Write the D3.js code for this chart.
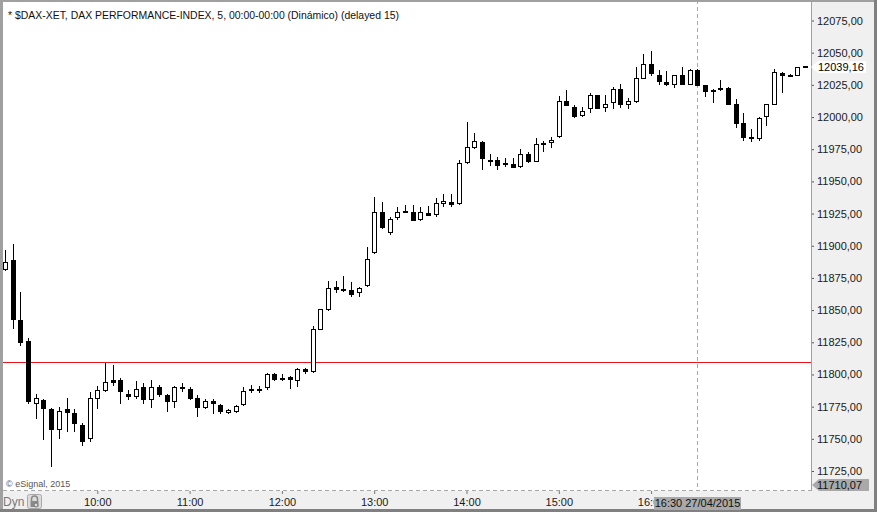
<!DOCTYPE html>
<html lang="es">
  <head>
    <meta charset="UTF-8" />
    <title>DAX 5 min</title>
    <script src="https://cdn.jsdelivr.net/npm/d3@7"></script>
    <style>
      body { margin: 0; background: #fff; }
      svg { display: block; font-family: "Liberation Sans", Arial, sans-serif; }
    </style>
  </head>
  <body>
    <svg width="877" height="512"></svg>
  </body>

  <script>
    // 5 minute candles, 27/04/2015, first bar 09:00
    var opens = [
      11882, 11889, 11842, 11826, 11778, 11780, 11773, 11758, 11773, 11770, 11761, 11751,
      11782, 11788, 11796, 11796, 11785, 11783, 11790, 11781, 11790, 11784, 11779, 11790,
      11789, 11782, 11775, 11779, 11776, 11770.5, 11772, 11777, 11788.5, 11789, 11790, 11800,
      11797.5, 11798, 11796, 11804, 11803, 11835, 11851, 11868, 11866.5, 11865.5, 11864, 11869.5,
      11895, 11926, 11910.5, 11922, 11927, 11926.5, 11920.5, 11925.5, 11925, 11933, 11934, 11933,
      11965, 11977, 11980.5, 11967, 11967, 11964.5, 11963.5, 11962, 11971, 11966, 11979.5, 11980.5,
      11985.5, 12012.5, 12008, 12001.5, 12007, 12017, 12007.5, 12011.5, 12022, 12010.5, 12012.5, 12030,
      12041, 12033, 12027.5, 12025.5, 12033, 12026, 12036.5, 12025, 12021, 12022.5, 12022.5, 12010.5,
      11995, 11984.5, 11983.5, 12001, 12010.5, 12034.5, 12033, 12033, 12039.5
    ];
    var highs = [
      11897, 11901, 11864, 11828, 11785, 11781, 11774, 11775, 11782, 11773, 11762, 11786,
      11791, 11809, 11807, 11797, 11788, 11795, 11793, 11796, 11792, 11785, 11791, 11793,
      11790, 11784, 11781, 11781, 11777, 11773, 11776, 11790.5, 11792, 11791, 11801, 11801,
      11800, 11798.5, 11805, 11805, 11838, 11851, 11873, 11873, 11876.5, 11871.5, 11868, 11899,
      11938, 11934, 11922, 11930, 11932, 11932, 11930, 11930.5, 11937, 11940, 11940, 11966.5,
      11996, 11987.5, 11981, 11971, 11969, 11968, 11968.5, 11975.5, 11973, 11984, 11981, 11984.5,
      12016, 12021, 12009.5, 12008, 12019, 12017.5, 12017.5, 12023, 12026, 12015, 12038.5, 12049,
      12051, 12036.5, 12036, 12033, 12038.5, 12037.5, 12037.5, 12025, 12021.5, 12029, 12023.5, 12014,
      12003, 11990.5, 12000, 12010, 12037.5, 12035, 12033.5, 12039, 12039.5
    ];
    var lows = [
      11881, 11836, 11823, 11778, 11766, 11750, 11729, 11751, 11756, 11756, 11745, 11748,
      11774, 11787, 11792, 11778, 11781, 11782, 11778, 11775, 11783, 11772, 11775, 11787,
      11781, 11768, 11774, 11770, 11770, 11770, 11771, 11776.5, 11786, 11786, 11789, 11795.5,
      11795.5, 11789.5, 11791, 11801.5, 11802, 11835, 11850, 11864, 11865, 11861, 11861, 11869,
      11894.5, 11914, 11909.5, 11921, 11926, 11920, 11920, 11924, 11923, 11931, 11931, 11932.5,
      11964.5, 11976, 11960, 11963, 11960, 11962, 11961, 11961, 11965, 11966, 11974, 11976.5,
      11984.5, 12009, 12000, 12001, 12004, 12007, 12005, 12007, 12008, 12007, 12012, 12030,
      12033, 12025.5, 12025, 12023, 12026, 12026, 12025, 12016.5, 12011.5, 12021, 12010, 11992.5,
      11982, 11981, 11982, 11994, 12010, 12019.5, 12032.5, 12032.5, 12039
    ];
    var closes = [
      11887, 11843, 11825, 11779, 11782, 11774, 11758, 11772, 11771, 11762, 11748, 11782,
      11788, 11794, 11794, 11787, 11783, 11789, 11781, 11790, 11785, 11779, 11790, 11790.5,
      11782, 11775, 11779, 11778, 11772, 11772.5, 11775.5, 11787, 11789, 11789, 11800, 11796.5,
      11797, 11796.5, 11804, 11802.5, 11835, 11850.5, 11867, 11866.5, 11866, 11862.5, 11867.5, 11890,
      11926, 11914.5, 11920.5, 11926, 11926, 11920, 11926, 11924, 11933, 11935, 11932.5, 11964,
      11976.5, 11981, 11968, 11966, 11963, 11963.5, 11961.5, 11971, 11966, 11979, 11980, 11982.5,
      12012.5, 12009.5, 12001, 12004.5, 12017, 12007, 12010, 12022, 12010.5, 12012.5, 12030, 12041,
      12034, 12028, 12025.5, 12033, 12026, 12036.5, 12025, 12020.5, 12020, 12021.5, 12010.5, 11995,
      11984.5, 11983.5, 11999.5, 12010, 12035, 12033, 12032.5, 12038.5, 12039.16
    ];

    var priceTicks = [11725, 11750, 11775, 11800, 11825, 11850, 11875, 11900, 11925, 11950, 11975, 12000, 12025, 12050, 12075];
    var hourLabels = ['10:00', '11:00', '12:00', '13:00', '14:00', '15:00', '16:00'];
    var refPrice = 11810; // linea roja
    var lastPrice = 12039.16;
    var cursorPrice = 11710.07;
    var cursorTime = '16:30';
    var cursorLabel = '16:30 27/04/2015';
    var title = '* $DAX-XET, DAX PERFORMANCE-INDEX, 5, 00:00-00:00 (Dinámico) (delayed 15)';

    var svg = d3.select('svg');
    var W = 877, H = 512;
    var plotL = 3, plotR = 811, plotT = 2, plotB = 491;

    var day = function (s) {
      return new Date(2015, 3, 27, +s.slice(0, 2), +s.slice(3, 5));
    };
    var start = day('09:00');
    var times = opens.map(function (d, i) {
      return d3.timeMinute.offset(start, i * 5);
    });

    var x = d3.scaleTime().domain([start, day('17:00')]).range([5, 5 + 8 * 92.3]);
    var y = d3.scaleLinear().domain([11725, 12075]).range([471, 20.5]);
    var fmt = function (v) { return d3.format('.2f')(v).replace('.', ','); };

    // fondo y paneles
    svg.append('rect').attr('width', W).attr('height', H).attr('fill', '#f0f0f0');
    svg.append('rect')
      .attr('x', plotL).attr('y', plotT)
      .attr('width', plotR - plotL).attr('height', plotB - plotT)
      .attr('fill', '#fff');

    var clip = svg.append('clipPath').attr('id', 'plot');
    clip.append('rect').attr('x', plotL).attr('y', plotT).attr('width', plotR - plotL).attr('height', plotB - plotT);

    var g = svg.append('g').attr('clip-path', 'url(#plot)');

    // linea de referencia
    var ry = Math.round(y(refPrice)) + 0.5;
    g.append('line')
      .attr('x1', plotL).attr('x2', plotR).attr('y1', ry).attr('y2', ry)
      .attr('stroke', '#e8141b').attr('stroke-width', 1);

    // cursor
    var cx0 = Math.round(x(day(cursorTime))) + 0.5;
    g.append('line')
      .attr('x1', cx0).attr('x2', cx0).attr('y1', 0).attr('y2', plotB)
      .attr('stroke', '#a8a8a8').attr('stroke-dasharray', '4,3');
    svg.append('line')
      .attr('x1', plotL).attr('x2', plotR).attr('y1', plotB - 0.5).attr('y2', plotB - 0.5)
      .attr('stroke', '#a8a8a8').attr('stroke-dasharray', '4,3');

    // velas
    var bars = g.selectAll('g.bar').data(opens).enter().append('g').attr('class', 'bar');
    bars.append('line')
      .attr('x1', function (d, i) { return Math.round(x(times[i])) + 0.5; })
      .attr('x2', function (d, i) { return Math.round(x(times[i])) + 0.5; })
      .attr('y1', function (d, i) { return Math.round(y(highs[i])); })
      .attr('y2', function (d, i) { return Math.round(y(lows[i])) + 1; })
      .attr('stroke', '#000');
    bars.append('rect')
      .attr('x', function (d, i) {
        var c = Math.round(x(times[i]));
        return closes[i] >= d ? c - 1.5 : c - 2;
      })
      .attr('y', function (d, i) {
        var top = Math.round(y(Math.max(d, closes[i])));
        return closes[i] >= d ? top + 0.5 : top;
      })
      .attr('width', function (d, i) { return closes[i] >= d ? 4 : 5; })
      .attr('height', function (d, i) {
        var h = Math.round(y(Math.min(d, closes[i]))) - Math.round(y(Math.max(d, closes[i])));
        return closes[i] >= d ? Math.max(h, 1) : Math.max(h, 1) + 1;
      })
      .attr('fill', function (d, i) { return closes[i] >= d ? '#fff' : '#000'; })
      .attr('stroke', function (d, i) { return closes[i] >= d ? '#000' : 'none'; })
      .attr('stroke-width', 1);

    // eje de precios
    var yAxis = d3.axisRight(y).tickValues(priceTicks).tickSize(3).tickPadding(3).tickFormat(fmt);
    var gy = svg.append('g').attr('transform', 'translate(' + plotR + ',0)').call(yAxis)
      .attr('font-size', 11).attr('font-family', '"Liberation Sans", Arial, sans-serif');
    gy.select('.domain').remove();
    gy.selectAll('line').attr('stroke', '#555');
    gy.selectAll('text').attr('fill', '#1a1a1a');

    // eje de tiempo (la etiqueta del cursor tapa parte de "16:00")
    var boxL = cx0 - 43.5;
    var xclip = svg.append('clipPath').attr('id', 'xaxis');
    xclip.append('rect').attr('x', 0).attr('y', -5).attr('width', boxL).attr('height', 30);
    xclip.append('rect').attr('x', boxL + 87).attr('y', -5).attr('width', W).attr('height', 30);
    var xAxis = d3.axisBottom(x).tickValues(hourLabels.map(day)).tickSize(3).tickPadding(4)
      .tickFormat(d3.timeFormat('%H:%M'));
    var gx = svg.append('g').attr('transform', 'translate(0,' + plotB + ')').call(xAxis)
      .attr('clip-path', 'url(#xaxis)')
      .attr('font-size', 11).attr('font-family', '"Liberation Sans", Arial, sans-serif');
    gx.select('.domain').remove();
    gx.selectAll('line').attr('stroke', '#777');
    gx.selectAll('text').attr('fill', '#1a1a1a');

    // marcos
    svg.append('line').attr('x1', plotR + 0.5).attr('x2', plotR + 0.5).attr('y1', 0).attr('y2', plotB)
      .attr('stroke', '#a0a0a0');
    svg.append('rect').attr('x', 0).attr('y', 0).attr('width', 3).attr('height', H).attr('fill', '#a0a0a0');
    svg.append('rect').attr('x', 0).attr('y', 0).attr('width', W).attr('height', 2).attr('fill', '#a0a0a0');
    svg.append('rect').attr('x', W - 3).attr('y', 0).attr('width', 3).attr('height', H).attr('fill', '#808080');
    svg.append('rect').attr('x', 0).attr('y', H - 3).attr('width', W).attr('height', 3).attr('fill', '#808080');

    // ultimo precio
    var ly = Math.round(y(lastPrice));
    svg.append('path')
      .attr('d', 'M' + plotR + ',' + ly + 'L' + (plotR + 7) + ',' + (ly - 6) + 'H866V' + (ly + 6) + 'H' + (plotR + 7) + 'Z')
      .attr('fill', '#fff');
    svg.append('text').attr('x', plotR + 7).attr('y', ly + 4).attr('font-size', 11).attr('fill', '#000')
      .text(fmt(lastPrice));

    // precio del cursor
    svg.append('path')
      .attr('d', 'M' + (plotR + 1) + ',485L' + (plotR + 8) + ',479H869V491H' + (plotR + 8) + 'Z')
      .attr('fill', '#a9a9a9');
    svg.append('text').attr('x', plotR + 6).attr('y', 489).attr('font-size', 11).attr('fill', '#111')
      .text(fmt(cursorPrice));

    // hora del cursor
    svg.append('rect').attr('x', boxL).attr('y', 497).attr('width', 87).attr('height', 13).attr('fill', '#a9a9a9');
    svg.append('text').attr('x', cx0).attr('y', 507).attr('text-anchor', 'middle')
      .attr('font-size', 11).attr('fill', '#111').text(cursorLabel);

    // titulo y marca
    svg.append('text').attr('x', 8).attr('y', 19).attr('font-size', 10.45).attr('fill', '#111').text(title);
    svg.append('text').attr('x', 6).attr('y', 487).attr('font-size', 9).attr('fill', '#555').text('© eSignal, 2015');

    // Dyn + candado
    svg.append('text').attr('x', 3).attr('y', 506).attr('font-size', 12).attr('fill', '#7a7a7a').text('Dyn');
    svg.append('rect').attr('x', 27.5).attr('y', 494.5).attr('width', 14).attr('height', 14).attr('rx', 2)
      .attr('fill', '#dcdcdc').attr('stroke', '#a8a8a8');
    svg.append('path').attr('d', 'M31.5,501V499a3,3 0 0 1 6,0V501').attr('fill', 'none').attr('stroke', '#8a8a8a').attr('stroke-width', 1.5);
    svg.append('rect').attr('x', 30.5).attr('y', 501).attr('width', 8).attr('height', 6).attr('fill', '#8a8a8a');
    svg.append('circle').attr('cx', 36).attr('cy', 505).attr('r', 2).attr('fill', '#dcdcdc').attr('stroke', '#777');
  </script>
</html>
